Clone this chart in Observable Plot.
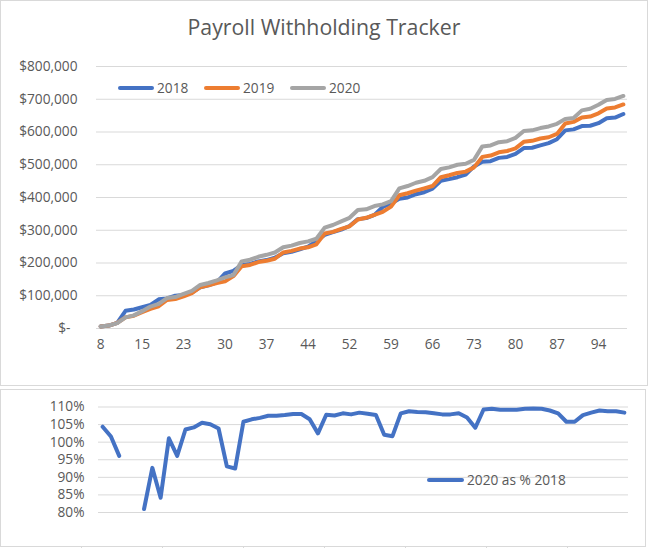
<!DOCTYPE html>
<html>
<head>
<meta charset="utf-8">
<script src="https://cdn.jsdelivr.net/npm/d3@7"></script>
<script src="https://cdn.jsdelivr.net/npm/@observablehq/plot@0.6"></script>
<style>
  body { margin: 0; background: #fff; font-family: "Open Sans", sans-serif; }
  #page { position: relative; width: 651px; height: 548px; overflow: hidden; background: #fff; }
  .box { position: absolute; border: 1px solid #d9d9d9; box-sizing: border-box; }
  .abs { position: absolute; }
  #title { position: absolute; left: 0; top: 12px; width: 648px; text-align: center; font-size: 21.3px; line-height: 30px; color: #595959; }
  .lg-text { position: absolute; font-size: 13.7px; line-height: 20px; color: #595959; white-space: nowrap; }
  .sw { position: absolute; height: 4px; border-radius: 2px; }
  .cell { position: absolute; background: #d9d9d9; }
</style>
</head>
<body>
<div id="page">
  <div class="box" style="left:0;top:0;width:648px;height:386px"></div>
  <div class="box" style="left:0;top:389px;width:646px;height:158px"></div>
  <div id="title">Payroll Withholding Tracker</div>
  <div id="top" class="abs" style="left:0;top:50px"></div>
  <div id="bottom" class="abs" style="left:0;top:390px"></div>
  <div id="legendTop"></div>
  <div id="legendBottom"></div>
  <div id="cells"></div>
</div>
<script>
// ---- data ----
const periods = d3.range(64); // pay-period positions along the category axis
const tickPeriods = [0, 5, 10, 15, 20, 25, 30, 35, 40, 45, 50, 55, 60];
const tickLabels = [8, 15, 23, 30, 37, 44, 52, 59, 66, 73, 80, 87, 94];

const years = ["2018", "2019", "2020"];
const yearColors = ["#4472C4", "#ED7D31", "#A5A5A5"];

const v2018 = [6000, 9000, 17000, 54000, 58000, 65000, 72000, 89000, 92000, 100000,
  102000, 110000, 126000, 132000, 141000, 168000, 176000, 194000, 197000, 205000,
  209000, 216000, 230000, 234000, 242000, 250000, 267000, 286000, 294000, 302000,
  313000, 334000, 337000, 347000, 371000, 382000, 396000, 400000, 410000, 416000,
  427000, 451000, 456000, 462000, 470000, 495000, 509000, 511000, 521000, 524000,
  533000, 551000, 552000, 559000, 566000, 578000, 605000, 608000, 618000, 619000,
  627000, 642000, 644000, 655000];

const v2019 = [6000, 9000, 17000, 34000, 39000, 50000, 60000, 68000, 87000, 90000,
  98000, 108000, 126000, 132000, 139000, 144000, 160000, 190000, 194000, 203000,
  207000, 213000, 232000, 237000, 244000, 248000, 257000, 290000, 295000, 304000,
  312000, 333000, 338000, 347000, 356000, 372000, 407000, 413000, 421000, 428000,
  435000, 462000, 468000, 475000, 479000, 492000, 524000, 528000, 538000, 542000,
  550000, 570000, 573000, 580000, 584000, 594000, 626000, 631000, 644000, 647000,
  657000, 672000, 675000, 684000];

const v2020 = [6300, 9200, 16300, 34000, 40000, 53000, 67000, 75000, 93000, 96000,
  106000, 115000, 133000, 139000, 147000, 156000, 163000, 205000, 210000, 219000,
  225000, 232000, 248000, 253000, 261000, 266000, 274000, 308000, 316000, 327000,
  338000, 362000, 364000, 374000, 379000, 389000, 428000, 435000, 445000, 451000,
  462000, 487000, 492000, 500000, 503000, 515000, 556000, 559000, 569000, 572000,
  582000, 603000, 605000, 612000, 617000, 625000, 640000, 643000, 666000, 671000,
  683000, 698000, 701000, 710000];

const pct2020vs2018 = [104.4, 101.6, 96.1, null, null, 81.0, 92.7, 84.2, 101.1, 96.1,
  103.6, 104.2, 105.5, 105.1, 103.9, 93.1, 92.5, 105.8, 106.5, 106.9,
  107.5, 107.5, 107.7, 108.0, 108.0, 106.5, 102.5, 107.8, 107.6, 108.2,
  107.9, 108.4, 108.1, 107.7, 102.1, 101.7, 108.2, 108.8, 108.6, 108.5,
  108.2, 107.9, 107.9, 108.2, 107.0, 104.1, 109.3, 109.5, 109.2, 109.2,
  109.2, 109.5, 109.6, 109.5, 109.0, 108.2, 105.8, 105.8, 107.7, 108.4,
  109.0, 108.8, 108.8, 108.4];

const dollarTicks = [0, 100000, 200000, 300000, 400000, 500000, 600000, 700000, 800000];
const pctTicks = [80, 85, 90, 95, 100, 105, 110];
const pctLabel = "2020 as % 2018";

// ---- build tables ----
const seriesValues = [v2018, v2019, v2020];
const rows = [];
years.forEach((yr, k) => periods.forEach((p, i) => rows.push({period: p, year: yr, value: seriesValues[k][i]})));
const pctRows = periods.map((p, i) => ({period: p, pct: pct2020vs2018[i]}));

const fmtDollar = d => d === 0 ? "$-\u00a0\u00a0" : d3.format("$,")(d);
const baseStyle = {fontFamily: '"Open Sans", sans-serif', fontSize: "13.7px", color: "#595959", background: "transparent", overflow: "visible"};

const topChart = Plot.plot({
  width: 648, height: 336,
  marginTop: 16, marginRight: 21, marginBottom: 58, marginLeft: 96,
  style: baseStyle,
  x: {type: "point", domain: periods, padding: 0.5, round: false, axis: null},
  y: {domain: [0, 800000], axis: null},
  color: {domain: years, range: yearColors},
  marks: [
    Plot.gridY(dollarTicks, {stroke: "#d9d9d9", strokeOpacity: 1, strokeWidth: 1}),
    Plot.axisY(dollarTicks, {label: null, tickSize: 0, tickPadding: 19, tickFormat: fmtDollar}),
    Plot.axisX(tickPeriods, {label: null, tickSize: 0, tickPadding: 11, tickFormat: d => String(tickLabels[tickPeriods.indexOf(d)])}),
    Plot.line(rows, {x: "period", y: "value", z: "year", stroke: "year", strokeWidth: 4, strokeLinejoin: "round", strokeLinecap: "round"})
  ]
});
document.getElementById("top").append(topChart);

const bottomChart = Plot.plot({
  width: 648, height: 156,
  marginTop: 16.5, marginRight: 20, marginBottom: 34, marginLeft: 98,
  style: baseStyle,
  x: {type: "point", domain: periods, padding: 0.5, round: false, axis: null},
  y: {domain: [80, 110], axis: null},
  marks: [
    Plot.gridY(pctTicks, {stroke: "#d9d9d9", strokeOpacity: 1, strokeWidth: 1}),
    Plot.axisY(pctTicks, {label: null, tickSize: 0, tickPadding: 14, tickFormat: d => d + "%"}),
    Plot.line(pctRows, {x: "period", y: "pct", stroke: yearColors[0], strokeWidth: 4, strokeLinejoin: "round", strokeLinecap: "round"})
  ]
});
document.getElementById("bottom").append(bottomChart);

// ---- legends ----
function legendItem(container, swLeft, swWidth, y, color, textLeft, label) {
  const sw = document.createElement("div");
  sw.className = "sw";
  sw.style.left = swLeft + "px"; sw.style.top = (y - 2) + "px"; sw.style.width = swWidth + "px"; sw.style.background = color;
  const t = document.createElement("div");
  t.className = "lg-text";
  t.style.left = textLeft + "px"; t.style.top = (y - 10.5) + "px";
  t.textContent = label;
  container.append(sw, t);
}
const lt = document.getElementById("legendTop");
legendItem(lt, 118, 36, 88, yearColors[0], 157, years[0]);
legendItem(lt, 204, 36, 88, yearColors[1], 243, years[1]);
legendItem(lt, 290, 36, 88, yearColors[2], 329, years[2]);
const lb = document.getElementById("legendBottom");
legendItem(lb, 427, 37, 480, yearColors[0], 467, pctLabel);

// spreadsheet cell lines peeking out below the chart objects
const cells = document.getElementById("cells");
[81, 162, 243, 324, 405, 486, 567].forEach(x => {
  const c = document.createElement("div");
  c.className = "cell";
  c.style.left = x + "px"; c.style.top = "546px"; c.style.width = "1px"; c.style.height = "2px";
  cells.append(c);
});
</script>
</body>
</html>
